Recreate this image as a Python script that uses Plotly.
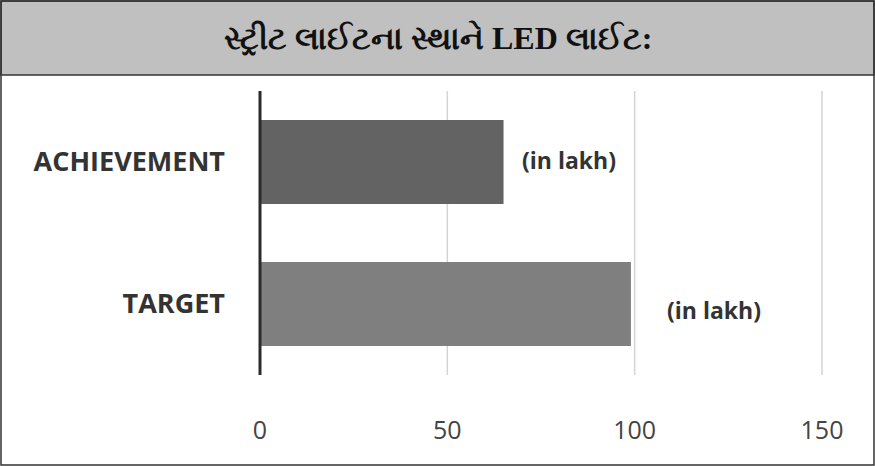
import plotly.graph_objects as go

categories = ["TARGET", "ACHIEVEMENT"]
values = [99, 65]
bar_colors = ["#7f7f7f", "#636363"]
unit_label = "(in lakh)"
label_shift = [34, 16]
label_yshift = [-6, 2]
tick_vals = [0, 50, 100, 150]
title_text = "સ્ટ્રીટ લાઈટના સ્થાને LED લાઈટ:"

W, H = 875, 466
X0, X1 = 260, 822          # pixel positions of 0 and 150
PAD = 3                    # extra pixels so edge lines are not clipped
L, R, T, B = X0 - PAD, X1 + PAD, 91, 375
pw, ph = R - L, B - T
ppu = (X1 - X0) / (tick_vals[-1] - tick_vals[0])
x_range = [tick_vals[0] - PAD / ppu, tick_vals[-1] + PAD / ppu]

def px(x):
    return (x - L) / pw

def py(y):
    return (B - y) / ph

fig = go.Figure()
fig.add_trace(go.Bar(
    y=categories, x=values, orientation="h",
    marker=dict(color=bar_colors, line=dict(width=0)),
    hoverinfo="x+y",
))

annotations = []
for c, v, s, ys in zip(categories, values, label_shift, label_yshift):
    annotations.append(dict(
        x=v, y=c, xref="x", yref="y", text="<b>" + unit_label + "</b>",
        showarrow=False, xanchor="left", xshift=s, yshift=ys,
        font=dict(family="Open Sans", size=23, color="#333333"),
    ))
annotations.append(dict(
    x=0.5 * (px(0) + px(W)), y=py(38), xref="paper", yref="paper",
    text="<b>" + title_text + "</b>", showarrow=False,
    xanchor="center", yanchor="middle",
    font=dict(family="Liberation Serif, Noto Sans", size=32, color="#111111"),
))

shapes = [
    dict(type="rect", xref="paper", yref="paper", x0=px(1), x1=px(W - 1),
         y0=py(75), y1=py(1), fillcolor="#c0c0c0",
         line=dict(color="#333333", width=1.5), layer="below"),
    dict(type="rect", xref="paper", yref="paper", x0=px(1), x1=px(W - 1),
         y0=py(H - 1), y1=py(1), fillcolor="rgba(0,0,0,0)",
         line=dict(color="#333333", width=1.5)),
]
for t in tick_vals[1:]:
    shapes.append(dict(type="line", xref="x", yref="paper", x0=t, x1=t,
                       y0=0, y1=1, layer="below",
                       line=dict(color="#d4d4d4", width=1.5)))
shapes.append(dict(type="line", xref="x", yref="paper", x0=tick_vals[0],
                   x1=tick_vals[0], y0=0, y1=1,
                   line=dict(color="#2b2b2b", width=3)))

fig.update_layout(
    width=W, height=H,
    margin=dict(l=L, r=W - R, t=T, b=H - B, pad=0),
    paper_bgcolor="white", plot_bgcolor="white",
    showlegend=False, bargap=0.41,
    annotations=annotations, shapes=shapes,
    xaxis=dict(range=x_range, tickvals=tick_vals, showgrid=False,
               zeroline=False, showline=False, ticks="", ticklabelstandoff=38,
               tickfont=dict(family="Open Sans", size=25, color="#444444")),
    yaxis=dict(showgrid=False, zeroline=False, showline=False, ticks="",
               ticklabelstandoff=31,
               tickfont=dict(family="Open Sans", size=27, color="#333333")),
)
fig.update_yaxes(tickprefix="<b>", ticksuffix="</b>")

fig.write_html("out.html", config={"displayModeBar": False},
               post_script="document.body.style.margin='0';document.body.style.overflow='hidden';")
